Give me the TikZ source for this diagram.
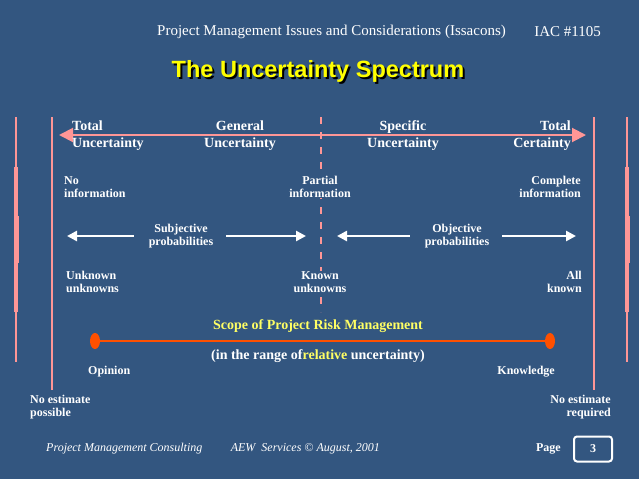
\documentclass[tikz,border=0pt]{standalone}
\usepackage{fontspec}
\setmainfont{Liberation Serif}
\newfontfamily\titlefont{Liberation Sans}
\usetikzlibrary{arrows.meta,positioning,shapes.geometric}
\definecolor{slidebg}{RGB}{51,86,128}
\definecolor{axispink}{RGB}{255,150,150}
\definecolor{scopered}{RGB}{255,80,0}
\definecolor{titleyellow}{RGB}{255,255,0}
\definecolor{scopeyellow}{RGB}{255,255,100}
\newcommand{\shadowtext}[1]{\makebox[0pt][l]{\hspace{2pt}\raisebox{-2pt}{\color{black}#1}}#1}

\begin{document}
\begin{tikzpicture}[x=1pt, y=-1pt, node distance=28pt,
        axislabel/.style={text=white, inner sep=0pt, font=\bfseries\fontsize{14}{17}\selectfont},
        smalllabel/.style={text=white, inner sep=0pt, font=\bfseries\fontsize{12}{13.5}\selectfont},
        footlabel/.style={text=white, inner sep=0pt, font=\itshape\fontsize{12}{14}\selectfont},
        pinkline/.style={draw=axispink, line width=2pt},
        whitearrow/.style={draw=white, line width=2.5pt, -{Triangle[length=10pt,width=10pt]}},
        enddot/.style={ellipse, fill=scopered, minimum width=10pt, minimum height=16pt, inner sep=0pt}]

        % slide
        \fill[slidebg] (0,0) rectangle (639,479);
        \useasboundingbox (0,0) rectangle (639,479);

        % header and title
        \node[anchor=west, text=white, inner sep=0pt, font=\fontsize{15}{17}\selectfont] (header) at (157,32) {Project Management Issues and Considerations (Issacons)};
        \node[right=of header, text=white, inner sep=0pt, font=\fontsize{15}{17}\selectfont] (iac) {IAC \#1105};
        \node[text=titleyellow, font=\titlefont\bfseries\fontsize{23.5}{26}\selectfont] (title) at (318,72) {\shadowtext{The Uncertainty Spectrum}};

        % outer bars
        \foreach \bx in {16,627} {
            \draw[pinkline] (\bx,117) -- (\bx,362);
            \draw[pinkline, line width=3.5pt] (\bx,167) -- (\bx,312);
            \draw[pinkline, line width=5pt] (\bx,216) -- (\bx,263);
        }

        % inner bounds and spectrum
        \coordinate (lefttop) at (52,117);
        \coordinate (leftbot) at (52,390);
        \coordinate (righttop) at (594,117);
        \coordinate (rightbot) at (594,390);
        \draw[pinkline] (lefttop) -- (leftbot);
        \draw[pinkline] (righttop) -- (rightbot);
        \coordinate (midtop) at (321,117);
        \coordinate (midbot) at (321,312);
        \draw[pinkline, dash pattern=on 7pt off 8pt] (midtop) -- (midbot);

        \coordinate (specL) at (59,135);
        \coordinate (specR) at (586,135);
        \draw[pinkline, {Triangle[length=14pt,width=14pt]}-{Triangle[length=14pt,width=14pt]}] (specL) -- (specR);

        \node[axislabel, anchor=west, align=left] (totunc) at (72,136) {Total\\Uncertainty};
        \node[axislabel, align=center] (genunc) at (240,136) {General\\Uncertainty};
        \node[axislabel, align=center] (specunc) at (403,136) {Specific\\Uncertainty};
        \node[axislabel, anchor=east, align=right] (totcert) at (571,136) {Total\\Certainty};

        % information
        \node[smalllabel, anchor=west, align=left] (noinfo) at (64,187) {No\\information};
        \node[smalllabel, align=center, fill=slidebg] (partinfo) at (320,187) {Partial\\information};
        \node[smalllabel, anchor=east, align=right] (compinfo) at (581,187) {Complete\\information};

        % probabilities
        \coordinate (subjL) at (67,236);
        \coordinate (subjR) at (306,236);
        \coordinate (objL) at (337,236);
        \coordinate (objR) at (576,236);
        \node[smalllabel, align=center] (subj) at (181,236) {Subjective\\probabilities};
        \node[smalllabel, align=center] (obj) at (457,236) {Objective\\probabilities};
        \draw[whitearrow] ([xshift=-15pt]subj.west) -- (subjL);
        \draw[whitearrow] ([xshift=13pt]subj.east) -- (subjR);
        \draw[whitearrow] ([xshift=-15pt]obj.west) -- (objL);
        \draw[whitearrow] ([xshift=13pt]obj.east) -- (objR);

        % knowns
        \node[smalllabel, anchor=west, align=left] (unkunk) at (66,282) {Unknown\\unknowns};
        \node[smalllabel, align=center, fill=slidebg] (knunk) at (320,282) {Known\\unknowns};
        \node[smalllabel, anchor=east, align=right] (allkn) at (582,282) {All\\known};

        % scope
        \node[text=scopeyellow, inner sep=0pt, font=\bfseries\fontsize{14}{16}\selectfont] (scope) at (318,326) {Scope of Project Risk Management};
        \node[enddot] (opdot) at (95,341) {};
        \node[enddot] (kndot) at (550,341) {};
        \draw[scopered, line width=2pt] (opdot) -- (kndot);
        \node[text=white, inner sep=0pt, font=\bfseries\fontsize{14}{16}\selectfont] (range) at (318,356) {(in the range of\textcolor{scopeyellow}{relative} uncertainty)};
        \node[smalllabel, anchor=west] (opinion) at (88,372) {Opinion};
        \node[smalllabel, anchor=east] (knowledge) at (555,372) {Knowledge};

        \node[smalllabel, anchor=west, align=left] (noestp) at (30,407) {No estimate\\possible};
        \node[smalllabel, anchor=east, align=right] (noestr) at (611,407) {No estimate\\required};

        % footer
        \node[footlabel, anchor=west] (consult) at (46,449) {Project Management Consulting};
        \node[footlabel, right=of consult] (aew) {AEW\ \ Services \textcopyright\ August, 2001};
        \node[draw=white, line width=2pt, rounded corners=3pt, minimum width=38pt, minimum height=25pt, text=white, font=\bfseries\fontsize{12}{14}\selectfont] (pagebox) at (593,449) {3};
        \node[smalllabel, left=12pt of pagebox] (page) {Page};

    \end{tikzpicture}
\end{document}
